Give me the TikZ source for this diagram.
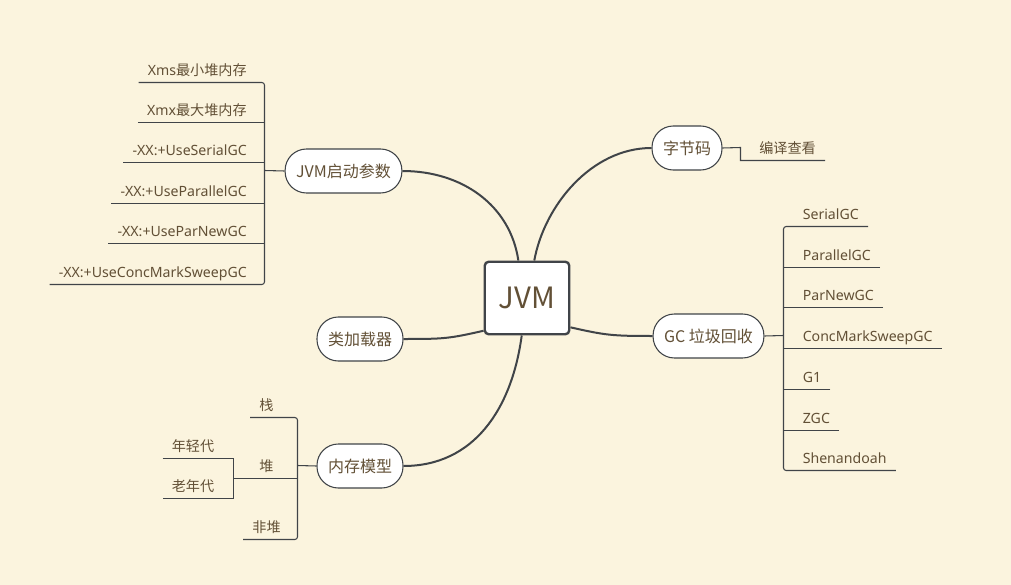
\documentclass[tikz,border=0pt]{standalone}
\usepackage{fontspec}
\setmainfont{Noto Sans CJK SC}
\newfontfamily\lat{Noto Sans}
\usepackage{tikz}
\usetikzlibrary{calc}

\definecolor{bgc}{RGB}{251,244,222}
\definecolor{linec}{RGB}{64,68,72}
\definecolor{textc}{RGB}{98,80,54}

\begin{document}
\begin{tikzpicture}[x=0.75pt,y=0.75pt,yscale=-1,xscale=1,
  root/.style={draw=linec, line width=1.8pt, fill=white, rounded corners=3pt, minimum width=63.4pt, minimum height=54.4pt, inner sep=0pt, text=textc, font=\fontsize{22}{26}\selectfont},
  topic/.style={draw=linec, line width=0.8pt, fill=white, rounded corners=16pt, minimum height=33pt, inner xsep=8.25pt, text=textc, font=\fontsize{12}{14}\selectfont},
  leaf/.style={inner xsep=6.75pt, inner ysep=5.25pt, text depth=0pt, text=textc, font=\fontsize{10.6}{12}\selectfont},
  trunk/.style={draw=linec, line width=1.5pt},
  twig/.style={draw=linec, line width=0.8pt}
]
%Background
\fill[bgc] (0,0) rectangle (1011,585);

%Shape: Root [id:jvm]
\node[root] (jvm) at (527,298) {JVM};

%Shape: Topics
\node[topic] (param) at (343.5,171) {JVM启动参数};
\node[topic] (bytecode) at (687,148) {字节码};
\node[topic] (gc) at (708.5,336) {GC 垃圾回收};
\node[topic] (loader) at (360,339) {类加载器};
\node[topic] (memory) at (360,466) {内存模型};

%Curve Lines
\draw[trunk] (jvm.103) .. controls +(-8,-55) and +(60,0) .. (param.east);
\draw[trunk] (jvm.79) .. controls +(10,-55) and +(-60,0) .. (bytecode.west);
\draw[trunk] (jvm.-34) .. controls +(35,8) and +(-40,0) .. (gc.west);
\draw[trunk] (jvm.217) .. controls +(-35,8) and +(40,0) .. (loader.east);
\draw[trunk] (jvm.262) .. controls +(-10,74) and +(70,0) .. (memory.east);

% Text Node
\node[leaf, anchor=south east] (p1) at (256,82.5) {{\lat Xms}最小堆内存};
% Text Node
\node[leaf, anchor=south east] (p2) at (256,122.5) {{\lat Xmx}最大堆内存};
% Text Node
\node[leaf, anchor=south east] (p3) at (256,162.5) {\lat -XX:+UseSerialGC};
% Text Node
\node[leaf, anchor=south east] (p4) at (256,203.5) {\lat -XX:+UseParallelGC};
% Text Node
\node[leaf, anchor=south east] (p5) at (256,243.5) {\lat -XX:+UseParNewGC};
% Text Node
\node[leaf, anchor=south east] (p6) at (256,284.5) {\lat -XX:+UseConcMarkSweepGC};

%Straight Lines: params bracket
\coordinate (jP) at (264.5,170.5);
\draw[twig] (param.west) -- (jP);
\draw[twig, rounded corners=2pt] (p1.south west) -- (p1.south west -| jP) -- (p6.south west -| jP) -- (p6.south west);
\draw[twig] (p2.south west) -- (p2.south west -| jP);
\draw[twig] (p3.south west) -- (p3.south west -| jP);
\draw[twig] (p4.south west) -- (p4.south west -| jP);
\draw[twig] (p5.south west) -- (p5.south west -| jP);

% Text Node
\node[leaf, anchor=south west] (b1) at (750,160.5) {编译查看};
\coordinate (jB) at (740.5,147.5);
\draw[twig] (bytecode.east) -- (jB) -- (jB |- b1.south) -- (b1.south east);

% Text Node
\node[leaf, anchor=south west] (g1) at (793.5,226.5) {\lat SerialGC};
% Text Node
\node[leaf, anchor=south west] (g2) at (793.5,267.5) {\lat ParallelGC};
% Text Node
\node[leaf, anchor=south west] (g3) at (793.5,307.5) {\lat ParNewGC};
% Text Node
\node[leaf, anchor=south west] (g4) at (793.5,348.5) {\lat ConcMarkSweepGC};
% Text Node
\node[leaf, anchor=south west] (g5) at (793.5,389.5) {\lat G1};
% Text Node
\node[leaf, anchor=south west] (g6) at (793.5,430.5) {\lat ZGC};
% Text Node
\node[leaf, anchor=south west] (g7) at (793.5,470.5) {\lat Shenandoah};

%Straight Lines: gc bracket
\coordinate (jG) at (783.5,335.5);
\draw[twig] (gc.east) -- (jG);
\draw[twig, rounded corners=2pt] (g1.south east) -- (g1.south east -| jG) -- (g7.south east -| jG) -- (g7.south east);
\draw[twig] (g2.south east) -- (g2.south east -| jG);
\draw[twig] (g3.south east) -- (g3.south east -| jG);
\draw[twig] (g4.south east) -- (g4.south east -| jG);
\draw[twig] (g5.south east) -- (g5.south east -| jG);
\draw[twig] (g6.south east) -- (g6.south east -| jG);

% Text Node
\node[leaf, anchor=south] (m1) at (266.5,417.5) {栈};
% Text Node
\node[leaf, anchor=south] (m2) at (266.5,478.5) {堆};
% Text Node
\node[leaf, anchor=south] (m3) at (266.5,539.5) {非堆};

%Straight Lines: memory bracket
\coordinate (jM) at (297.5,465.5);
\coordinate (jH) at (233.5,478.5);
\draw[twig] (memory.west) -- (jM);
\draw[twig, rounded corners=2pt] (m1.south west) -- (m1.south west -| jM) -- (m3.south west -| jM) -- (m3.south west);
\draw[twig] (jH) -- (jH -| jM);

% Text Node
\node[leaf, anchor=south west] (y1) at (162.5,458.5) {年轻代};
% Text Node
\node[leaf, anchor=south west] (y2) at (162.5,498.5) {老年代};
\draw[twig] (y1.south west) -- (y1.south west -| jH) -- (y2.south west -| jH) -- (y2.south west);

\end{tikzpicture}
\end{document}
